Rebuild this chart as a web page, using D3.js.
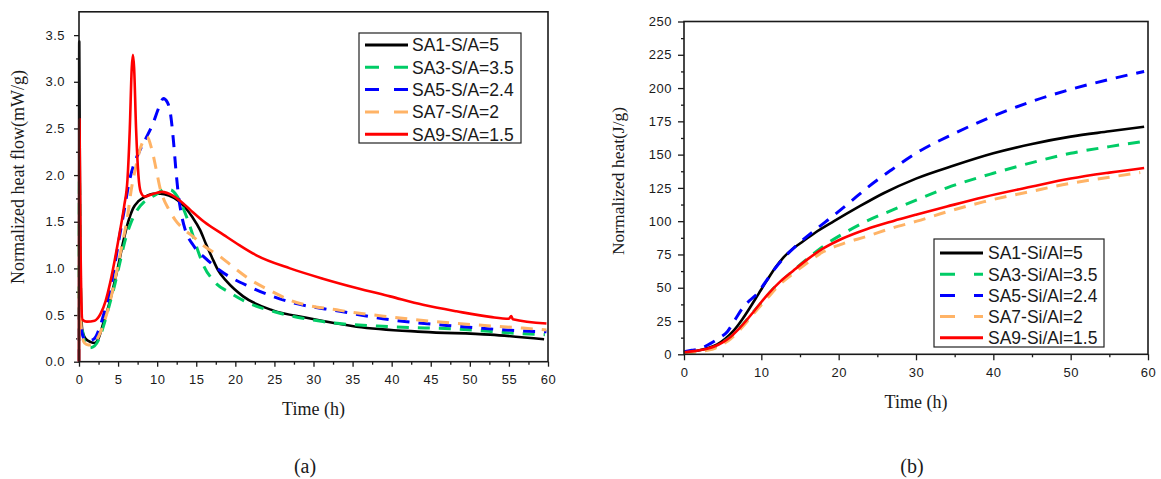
<!DOCTYPE html>
<html>
<head>
<meta charset="utf-8">
<script src="https://cdn.jsdelivr.net/npm/d3@7"></script>
<style>
  body { margin: 0; background: #fff; }
  text { fill: #1a1a1a; }
</style>
</head>
<body>
<svg id="fig" width="1161" height="479"></svg>
<script>
// ---- series metadata ----
const flowLabels = ["SA1-S/A=5", "SA3-S/A=3.5", "SA5-S/A=2.4", "SA7-S/A=2", "SA9-S/A=1.5"];
const heatLabels = ["SA1-Si/Al=5", "SA3-Si/Al=3.5", "SA5-Si/Al=2.4", "SA7-Si/Al=2", "SA9-Si/Al=1.5"];
const seriesColors = ["#000000", "#00cc66", "#0000ff", "#ffb366", "#ff0000"];
const seriesDashed = [false, true, true, true, false];

// ---- (a) normalized heat flow, mW/g, [time h, value] ----
const flowSA1 = [[0,0],[0.03,3.43],[0.15,1.2],[0.4,0.35],[0.8,0.25],[1.5,0.21],[2.0,0.20],[2.5,0.25],[3.1,0.41],[3.8,0.6],[4.4,0.80],[5.0,1.02],[5.7,1.30],[6.3,1.50],[6.9,1.64],[7.6,1.72],[8.5,1.77],[9.5,1.80],[10.4,1.80],[11.5,1.78],[12.6,1.73],[13.6,1.65],[14.5,1.55],[15.5,1.41],[16.3,1.25],[17.0,1.12],[17.8,0.98],[18.9,0.86],[21,0.70],[24.8,0.55],[29.1,0.47],[35.5,0.375],[44,0.32],[52.6,0.29],[59.5,0.24]];
const flowSA3 = [[0,0],[0.05,1.97],[0.25,0.6],[0.6,0.25],[1.0,0.17],[1.4,0.15],[2.0,0.17],[2.6,0.25],[3.2,0.40],[3.8,0.58],[4.5,0.80],[5.2,1.05],[5.9,1.30],[6.6,1.48],[7.4,1.62],[8.3,1.71],[9.2,1.76],[10.2,1.81],[11.0,1.85],[11.8,1.84],[12.5,1.78],[13.3,1.65],[14.2,1.45],[15.0,1.24],[16.0,1.02],[17.3,0.86],[19.5,0.73],[21.4,0.64],[25.7,0.52],[31.2,0.43],[39.8,0.375],[48.3,0.35],[56.8,0.30],[59.6,0.29]];
const flowSA5 = [[0,0],[0.08,0.75],[0.3,0.35],[0.8,0.23],[1.5,0.23],[2.0,0.25],[2.7,0.38],[3.3,0.55],[4.0,0.77],[4.6,1.05],[5.2,1.35],[5.8,1.63],[6.4,1.92],[7.0,2.11],[7.7,2.25],[8.6,2.40],[9.5,2.56],[10.2,2.72],[10.8,2.82],[11.3,2.78],[11.7,2.66],[12.1,2.35],[12.4,2.05],[12.7,1.80],[13.1,1.58],[13.6,1.41],[14.6,1.25],[16.3,1.10],[18,0.98],[21.9,0.80],[27,0.64],[33.4,0.54],[39.8,0.45],[48.3,0.38],[56.8,0.33],[59.8,0.32]];
const flowSA7 = [[0,0],[0.08,0.8],[0.3,0.35],[0.7,0.2],[1.2,0.18],[1.8,0.19],[2.5,0.27],[3.2,0.42],[3.9,0.62],[4.6,0.88],[5.5,1.25],[6.2,1.55],[6.7,1.85],[7.3,2.1],[7.9,2.3],[8.7,2.41],[9.3,2.28],[9.9,2.05],[10.4,1.85],[10.8,1.75],[11.5,1.63],[12.3,1.52],[13.4,1.42],[14.6,1.34],[16,1.24],[18,1.13],[19.5,1.03],[21.9,0.88],[24.5,0.76],[27,0.66],[33.4,0.55],[39.8,0.48],[48.3,0.41],[56.8,0.36],[59.8,0.34]];
const flowSA9 = [[0,0],[0.06,2.6],[0.2,1.2],[0.45,0.45],[1.0,0.43],[2.0,0.44],[2.8,0.52],[3.4,0.65],[4.0,0.85],[4.6,1.1],[5.2,1.38],[5.8,1.68],[6.2,1.95],[6.5,2.5],[6.75,3.15],[6.9,3.29],[7.05,3.15],[7.3,2.5],[7.6,2.0],[7.9,1.82],[8.4,1.77],[9.2,1.79],[10.6,1.82],[12,1.78],[13,1.72],[14.2,1.63],[16,1.50],[18.5,1.36],[20.5,1.25],[22.7,1.14],[27,1.00],[31.2,0.89],[35.5,0.79],[39.8,0.70],[44,0.61],[48.3,0.54],[52.6,0.48],[55,0.46],[55.3,0.49],[55.5,0.455],[59.8,0.41]];

// ---- (b) normalized cumulative heat, J/g, [time h, value] ----
const heatSA1 = [[0,1.5],[1,2],[2,3],[3,4.5],[4.3,7.5],[5.3,11.5],[6.45,18],[7.5,26],[8.6,35.7],[9.7,46],[10.75,55.7],[11.8,65],[12.9,73],[14,79],[15,83.2],[17,91.5],[19.4,100],[22.5,110.5],[25.8,121],[30,132],[35,142],[40,151],[45,158],[50,163.5],[55,167.5],[59.5,171]];
const heatSA3 = [[0,1],[1,1.5],[2,2.5],[3,3.5],[4,5.5],[5,9],[6,13],[7,18.5],[8,25],[9,32],[10.3,40.7],[11.5,49],[12.8,56],[14.2,63.2],[16,72],[18.5,83.2],[21,92],[23.6,100],[27,108.5],[30.1,116],[34,125],[40,136],[45,144],[50,151],[55,156],[59.5,160]];
const heatSA5 = [[0,2],[1,3],[2,4],[3.4,8],[4.5,12],[5.6,17],[6.6,26],[7.7,35.7],[8.6,41],[9.5,45.7],[10.5,54],[11.6,63.2],[13,73],[14.6,82],[17.2,94.5],[19.3,104],[21.5,114.5],[24,126.5],[26.7,138],[30,151],[35,166],[40,179],[45,190],[50,199],[55,206.5],[59.5,212.5]];
const heatSA7 = [[0,1],[1,1.5],[2,2],[3,3],[4,4.5],[5,7.5],[6,11.5],[7,17],[8,23.5],[9,30.5],[10.75,42],[12.5,53],[14.2,61],[16,69],[18,77],[20.5,83],[23.6,88.5],[27,95],[30.1,100],[34,107],[38.7,114.5],[45,122.5],[50,128.5],[55,133],[59,136.5]];
const heatSA9 = [[0,1.5],[1,2.2],[2,3],[3,4.2],[4,6],[5,9],[6,13],[7,18.5],[8,25],[9,32],[10.75,44.5],[12.5,55],[14.2,63.2],[16,71.5],[18,79.5],[20.5,87],[23.6,94],[27,100],[30.1,105],[34,111],[38.7,118],[45,126],[50,132],[55,136.5],[59.5,140]];

// ---- tick values ----
const flowXTicks = [0,5,10,15,20,25,30,35,40,45,50,55,60];
const flowYTicks = [0,0.5,1.0,1.5,2.0,2.5,3.0,3.5];
const heatXTicks = [0,10,20,30,40,50,60];
const heatYTicks = [0,25,50,75,100,125,150,175,200,225,250];

const svg = d3.select("#fig");
svg.append("rect").attr("width", 1161).attr("height", 479).attr("fill", "#fff");

function drawPanel(cfg) {
  const x = d3.scaleLinear().domain(cfg.xDomain).range([cfg.left, cfg.right]);
  const y = d3.scaleLinear().domain(cfg.yDomain).range([cfg.bottom, cfg.top]);
  const g = svg.append("g");
  const axisColor = "#1a1a1a";

  // minor ticks
  g.append("g").attr("transform", `translate(0,${cfg.bottom})`)
    .call(d3.axisBottom(x).tickValues(cfg.xMinor).tickSize(3).tickFormat(""))
    .call(s => s.select(".domain").remove());
  g.append("g").attr("transform", `translate(${cfg.left},0)`)
    .call(d3.axisLeft(y).tickValues(cfg.yMinor).tickSize(3).tickFormat(""))
    .call(s => s.select(".domain").remove());

  // major ticks with labels
  const xa = g.append("g").attr("transform", `translate(0,${cfg.bottom})`)
    .call(d3.axisBottom(x).tickValues(cfg.xTicks).tickSize(cfg.tick).tickPadding(cfg.xPad).tickFormat(d3.format("d")));
  const ya = g.append("g").attr("transform", `translate(${cfg.left},0)`)
    .call(d3.axisLeft(y).tickValues(cfg.yTicks).tickSize(cfg.tick).tickPadding(cfg.yPad).tickFormat(cfg.yFormat));
  [xa, ya].forEach(a => {
    a.select(".domain").remove();
    a.selectAll("text").attr("font-family", "'Liberation Sans', Arial, sans-serif")
      .attr("font-size", 13).attr("fill", axisColor).style("letter-spacing", "0.5px");
  });
  g.selectAll(".tick line").attr("stroke", axisColor).attr("stroke-width", 1.3);

  // series
  const line = d3.line().x(d => x(d[0])).y(d => y(d[1])).curve(d3.curveMonotoneX);
  cfg.series.forEach((data, i) => {
    g.append("path").datum(data)
      .attr("d", line)
      .attr("fill", "none")
      .attr("stroke", seriesColors[i])
      .attr("stroke-width", seriesDashed[i] ? 3 : 2.6)
      .attr("stroke-linejoin", "round")
      .attr("stroke-dasharray", seriesDashed[i] ? "12,9" : null);
  });

  // frame
  g.append("rect")
    .attr("x", cfg.left).attr("y", cfg.top)
    .attr("width", cfg.right - cfg.left).attr("height", cfg.bottom - cfg.top)
    .attr("fill", "none").attr("stroke", axisColor).attr("stroke-width", 1.6);

  // legend
  const L = cfg.legend;
  g.append("rect").attr("x", L.x).attr("y", L.y).attr("width", L.w).attr("height", L.h)
    .attr("fill", "#fff").attr("stroke", "#222").attr("stroke-width", 1.2);
  cfg.labels.forEach((lab, i) => {
    const cy = L.y + L.first + i * L.step;
    g.append("line")
      .attr("x1", L.x + 6).attr("x2", L.x + 49).attr("y1", cy).attr("y2", cy)
      .attr("stroke", seriesColors[i]).attr("stroke-width", 3)
      .attr("stroke-dasharray", seriesDashed[i] ? L.dash : null);
    g.append("text").attr("x", L.x + L.textX).attr("y", cy + 6.3)
      .attr("font-family", "'Liberation Sans', Arial, sans-serif")
      .attr("font-size", 17.5).text(lab);
  });

  // axis titles
  g.append("text")
    .attr("x", (cfg.left + cfg.right) / 2).attr("y", cfg.xTitleY)
    .attr("text-anchor", "middle")
    .attr("font-family", "'Liberation Serif', 'Times New Roman', serif")
    .attr("font-size", 18).text("Time (h)");
  g.append("text")
    .attr("transform", `translate(${cfg.yTitleX},${cfg.yTitleY}) rotate(-90)`)
    .attr("text-anchor", "middle")
    .attr("font-family", "'Liberation Serif', 'Times New Roman', serif")
    .attr("font-size", cfg.yTitleSize).text(cfg.yTitle);
  g.append("text")
    .attr("x", cfg.capX).attr("y", 473)
    .attr("text-anchor", "middle")
    .attr("font-family", "'Liberation Serif', 'Times New Roman', serif")
    .attr("font-size", 20).text(cfg.caption);
}

drawPanel({
  left: 79, right: 548, top: 11.8, bottom: 361.7,
  xDomain: [0, 60], yDomain: [0, 3.75],
  xTicks: flowXTicks, yTicks: flowYTicks,
  xMinor: d3.range(2.5, 60, 5), yMinor: d3.range(0.25, 3.75, 0.5),
  tick: 5, xPad: 8, yPad: 9, yFormat: d3.format(".1f"),
  series: [flowSA1, flowSA3, flowSA5, flowSA7, flowSA9],
  labels: flowLabels,
  legend: { x: 359, y: 33, w: 162, h: 110, first: 12, step: 22.3, textX: 53, dash: "14,15" },
  xTitleY: 415, yTitleX: 24, yTitleY: 177, yTitleSize: 18,
  yTitle: "Normalized heat flow(mW/g)",
  capX: 305, caption: "(a)"
});

drawPanel({
  left: 684, right: 1148, top: 21.5, bottom: 354.3,
  xDomain: [0, 60], yDomain: [0, 250],
  xTicks: heatXTicks, yTicks: heatYTicks,
  xMinor: d3.range(5, 60, 10), yMinor: d3.range(12.5, 250, 25),
  tick: 6, xPad: 7, yPad: 6, yFormat: d3.format("d"),
  series: [heatSA1, heatSA3, heatSA5, heatSA7, heatSA9],
  labels: heatLabels,
  legend: { x: 934, y: 239, w: 170, h: 108, first: 14, step: 21.2, textX: 54, dash: "15,19" },
  xTitleY: 408, yTitleX: 624, yTitleY: 181, yTitleSize: 17.5,
  yTitle: "Normalized heat(J/g)",
  capX: 912, caption: "(b)"
});
</script>
</body>
</html>
